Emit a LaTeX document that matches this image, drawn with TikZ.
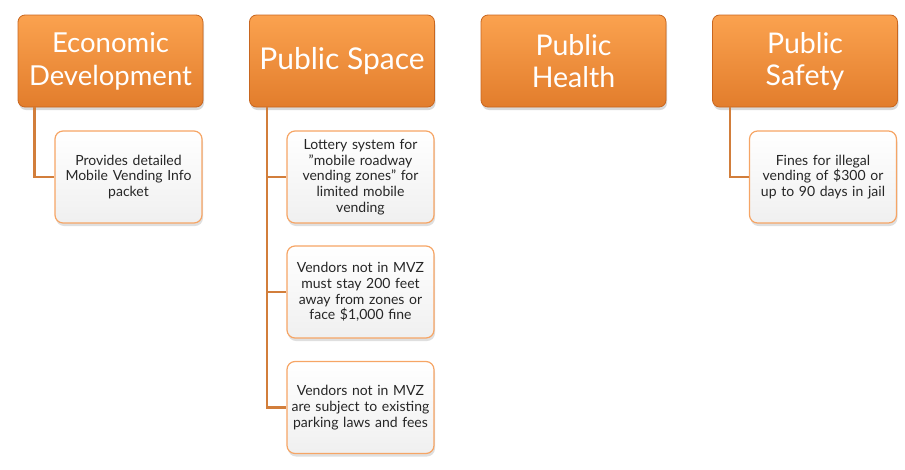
\documentclass[tikz,border=0pt]{standalone}
\usepackage{fontspec}
\setmainfont{Lato}
\usetikzlibrary{shadows}
\definecolor{orangeTop}{HTML}{FBA24F}
\definecolor{orangeBot}{HTML}{E27D2C}
\definecolor{orangeLine}{HTML}{C8661F}
\definecolor{childBorder}{HTML}{F6A565}
\definecolor{conn}{HTML}{D27E3B}
\definecolor{leafText}{HTML}{262626}
\tikzset{
 head/.style={draw=orangeLine, line width=0.8pt, rounded corners=7pt, top color=orangeTop, bottom color=orangeBot,
   minimum width=185pt, minimum height=92pt, text=white, align=center, inner sep=0pt,
   drop shadow={shadow xshift=1pt, shadow yshift=-3pt, opacity=0.3}},
 leaf/.style={draw=childBorder, line width=1.2pt, rounded corners=8pt, top color=white, bottom color=black!6,
   minimum width=147pt, minimum height=92pt, align=center, text width=144pt, inner sep=0pt,
   font=\fontsize{14}{15.8}\selectfont, text=leafText,
   drop shadow={shadow xshift=1pt, shadow yshift=-3pt, opacity=0.25}},
 link/.style={draw=conn, line width=2.6pt}
}
\begin{document}
\begin{tikzpicture}[x=1pt,y=1pt]
\useasboundingbox (0,0) rectangle (905,-469);
\node[head, font=\fontsize{27.5}{33}\selectfont] (h1) at (110.5,-61) {Economic\\Development};
\node[head, font=\fontsize{30}{33}\selectfont] (h2) at (342,-61) {Public Space};
\node[head, font=\fontsize{28.5}{32}\selectfont] (h3) at (573.5,-61) {Public\\Health};
\node[head, font=\fontsize{28.5}{32}\selectfont] (h4) at (805,-61) {Public\\Safety};
\node[leaf] (l1) at (128.5,-177) {Provides detailed\\Mobile Vending Info\\packet};
\node[leaf] (l2a) at (360.5,-177) {Lottery system for\\"mobile roadway\\vending zones" for\\limited mobile\\vending};
\node[leaf] (l2b) at (360.5,-292) {Vendors not in MVZ\\must stay 200 feet\\away from zones or\\face \$1,000 fine};
\node[leaf] (l2c) at (360.5,-407.5) {Vendors not in MVZ\\are subject to existing\\parking laws and fees};
\node[leaf] (l4) at (823,-177) {Fines for illegal\\vending of \$300 or\\up to 90 days in jail};
\draw[link] ([xshift=17pt]h1.south west) |- (l1.west);
\draw[link] ([xshift=18pt]h2.south west) |- (l2a.west);
\draw[link] ([xshift=18pt]h2.south west) |- (l2b.west);
\draw[link] ([xshift=18pt]h2.south west) |- (l2c.west);
\draw[link] ([xshift=18pt]h4.south west) |- (l4.west);
\end{tikzpicture}
\end{document}
